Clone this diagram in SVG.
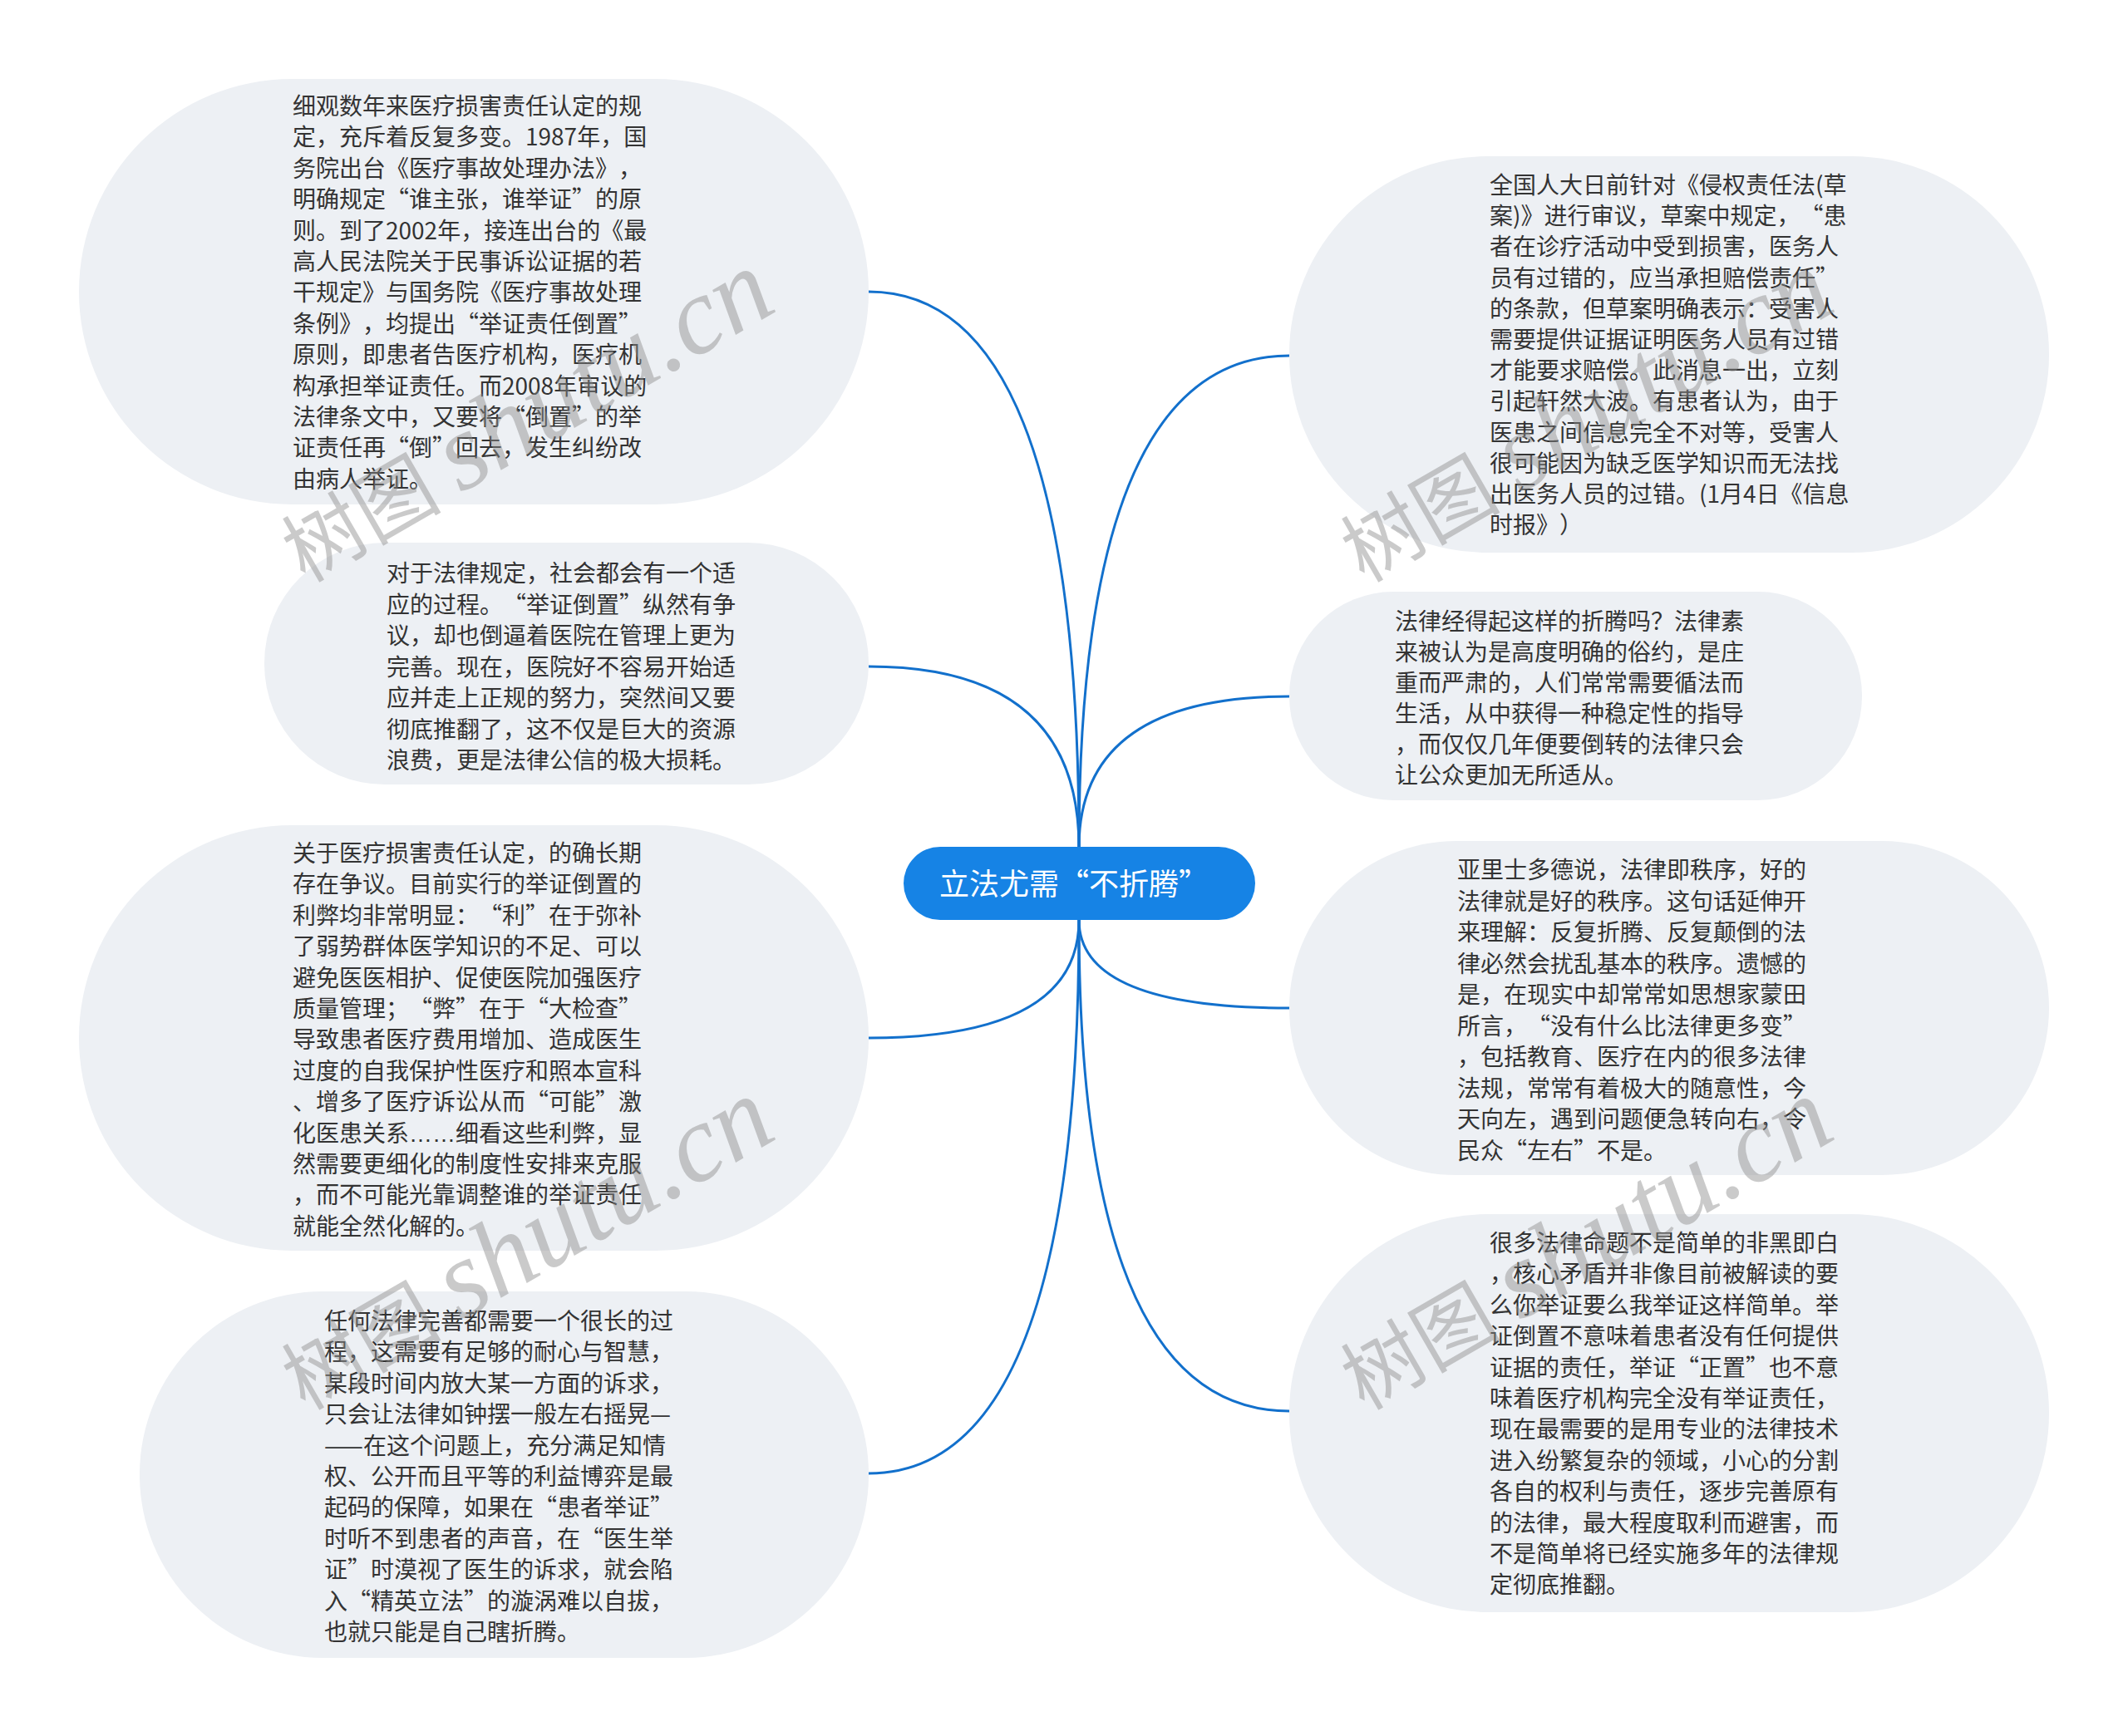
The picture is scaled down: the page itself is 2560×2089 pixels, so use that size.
<svg xmlns="http://www.w3.org/2000/svg" width="2560" height="2089" viewBox="0 0 2560 2089">
<style>
.node{fill:#EDF0F4;}
.t{font-family:"Noto Sans CJK SC","Noto Sans",sans-serif;font-size:28px;fill:#333333;text-spacing-trim:space-all;}
.el{font-family:"Liberation Sans",sans-serif;}
.c{fill:none;stroke:#1270CC;stroke-width:3;}
.center{fill:#1683E5;}
.ct{font-family:"Noto Sans CJK SC","Noto Sans",sans-serif;font-size:36px;fill:#FFFFFF;text-spacing-trim:space-all;}
.wm{fill:#8c8c8c;opacity:0.45;}
.wmc{font-family:"Noto Sans CJK SC",sans-serif;font-size:96px;}
.wml{font-family:"Liberation Serif",serif;font-style:italic;font-size:132px;}
</style>
<rect width="2560" height="2089" fill="#FFFFFF"/>
<g id="connectors">
<path class="c" d="M1298 1020 Q1298 351 1045 351"/>
<path class="c" d="M1298 1020 Q1298 802 1045 802"/>
<path class="c" d="M1298 1107 Q1298 1249 1045 1249"/>
<path class="c" d="M1298 1107 Q1298 1773 1045 1773"/>
<path class="c" d="M1298 1020 Q1298 428 1551 428"/>
<path class="c" d="M1298 1020 Q1298 838 1551 838"/>
<path class="c" d="M1298 1107 Q1298 1213 1551 1213"/>
<path class="c" d="M1298 1107 Q1298 1698 1551 1698"/>
</g>
<g id="center">
<rect class="center" x="1087" y="1019" width="423" height="88" rx="44" ry="44"/>
<text class="ct" x="1130" y="1077">立法尤需“不折腾”</text>
</g>
<g id="node-l1">
<rect class="node" x="95" y="95" width="950" height="512" rx="256" ry="256"/>
<text class="t" x="352" y="138">
<tspan x="352" dy="0">细观数年来医疗损害责任认定的规</tspan>
<tspan x="352" dy="37.4">定，充斥着反复多变。1987年，国</tspan>
<tspan x="352" dy="37.4">务院出台《医疗事故处理办法》，</tspan>
<tspan x="352" dy="37.4">明确规定“谁主张，谁举证”的原</tspan>
<tspan x="352" dy="37.4">则。到了2002年，接连出台的《最</tspan>
<tspan x="352" dy="37.4">高人民法院关于民事诉讼证据的若</tspan>
<tspan x="352" dy="37.4">干规定》与国务院《医疗事故处理</tspan>
<tspan x="352" dy="37.4">条例》，均提出“举证责任倒置”</tspan>
<tspan x="352" dy="37.4">原则，即患者告医疗机构，医疗机</tspan>
<tspan x="352" dy="37.4">构承担举证责任。而2008年审议的</tspan>
<tspan x="352" dy="37.4">法律条文中，又要将“倒置”的举</tspan>
<tspan x="352" dy="37.4">证责任再“倒”回去，发生纠纷改</tspan>
<tspan x="352" dy="37.4">由病人举证。</tspan>
</text>
</g>
<g id="node-l2">
<rect class="node" x="318" y="653" width="727" height="291" rx="145" ry="145"/>
<text class="t" x="465" y="700">
<tspan x="465" dy="0">对于法律规定，社会都会有一个适</tspan>
<tspan x="465" dy="37.5">应的过程。“举证倒置”纵然有争</tspan>
<tspan x="465" dy="37.5">议，却也倒逼着医院在管理上更为</tspan>
<tspan x="465" dy="37.5">完善。现在，医院好不容易开始适</tspan>
<tspan x="465" dy="37.5">应并走上正规的努力，突然间又要</tspan>
<tspan x="465" dy="37.5">彻底推翻了，这不仅是巨大的资源</tspan>
<tspan x="465" dy="37.5">浪费，更是法律公信的极大损耗。</tspan>
</text>
</g>
<g id="node-l3">
<rect class="node" x="95" y="993" width="950" height="512" rx="256" ry="256"/>
<text class="t" x="352" y="1037">
<tspan x="352" dy="0">关于医疗损害责任认定，的确长期</tspan>
<tspan x="352" dy="37.4">存在争议。目前实行的举证倒置的</tspan>
<tspan x="352" dy="37.4">利弊均非常明显：“利”在于弥补</tspan>
<tspan x="352" dy="37.4">了弱势群体医学知识的不足、可以</tspan>
<tspan x="352" dy="37.4">避免医医相护、促使医院加强医疗</tspan>
<tspan x="352" dy="37.4">质量管理；“弊”在于“大检查”</tspan>
<tspan x="352" dy="37.4">导致患者医疗费用增加、造成医生</tspan>
<tspan x="352" dy="37.4">过度的自我保护性医疗和照本宣科</tspan>
<tspan x="352" dy="37.4">、增多了医疗诉讼从而“可能”激</tspan>
<tspan x="352" dy="37.4">化医患关系<tspan class="el">……</tspan>细看这些利弊，显</tspan>
<tspan x="352" dy="37.4">然需要更细化的制度性安排来克服</tspan>
<tspan x="352" dy="37.4">，而不可能光靠调整谁的举证责任</tspan>
<tspan x="352" dy="37.4">就能全然化解的。</tspan>
</text>
</g>
<g id="node-l4">
<rect class="node" x="168" y="1554" width="877" height="441" rx="220" ry="220"/>
<text class="t" x="390" y="1600">
<tspan x="390" dy="0">任何法律完善都需要一个很长的过</tspan>
<tspan x="390" dy="37.4">程，这需要有足够的耐心与智慧，</tspan>
<tspan x="390" dy="37.4">某段时间内放大某一方面的诉求，</tspan>
<tspan x="390" dy="37.4">只会让法律如钟摆一般左右摇晃—</tspan>
<tspan x="390" dy="37.4">——在这个问题上，充分满足知情</tspan>
<tspan x="390" dy="37.4">权、公开而且平等的利益博弈是最</tspan>
<tspan x="390" dy="37.4">起码的保障，如果在“患者举证”</tspan>
<tspan x="390" dy="37.4">时听不到患者的声音，在“医生举</tspan>
<tspan x="390" dy="37.4">证”时漠视了医生的诉求，就会陷</tspan>
<tspan x="390" dy="37.4">入“精英立法”的漩涡难以自拔，</tspan>
<tspan x="390" dy="37.4">也就只能是自己瞎折腾。</tspan>
</text>
</g>
<g id="node-r1">
<rect class="node" x="1551" y="188" width="914" height="477" rx="238" ry="238"/>
<text class="t" x="1792" y="233">
<tspan x="1792" dy="0">全国人大日前针对《侵权责任法(草</tspan>
<tspan x="1792" dy="37.2">案)》进行审议，草案中规定，“患</tspan>
<tspan x="1792" dy="37.2">者在诊疗活动中受到损害，医务人</tspan>
<tspan x="1792" dy="37.2">员有过错的，应当承担赔偿责任”</tspan>
<tspan x="1792" dy="37.2">的条款，但草案明确表示：受害人</tspan>
<tspan x="1792" dy="37.2">需要提供证据证明医务人员有过错</tspan>
<tspan x="1792" dy="37.2">才能要求赔偿。此消息一出，立刻</tspan>
<tspan x="1792" dy="37.2">引起轩然大波。有患者认为，由于</tspan>
<tspan x="1792" dy="37.2">医患之间信息完全不对等，受害人</tspan>
<tspan x="1792" dy="37.2">很可能因为缺乏医学知识而无法找</tspan>
<tspan x="1792" dy="37.2">出医务人员的过错。(1月4日《信息</tspan>
<tspan x="1792" dy="37.2">时报》）</tspan>
</text>
</g>
<g id="node-r2">
<rect class="node" x="1551" y="712" width="689" height="251" rx="125" ry="125"/>
<text class="t" x="1678" y="758">
<tspan x="1678" dy="0">法律经得起这样的折腾吗？法律素</tspan>
<tspan x="1678" dy="37">来被认为是高度明确的俗约，是庄</tspan>
<tspan x="1678" dy="37">重而严肃的，人们常常需要循法而</tspan>
<tspan x="1678" dy="37">生活，从中获得一种稳定性的指导</tspan>
<tspan x="1678" dy="37">，而仅仅几年便要倒转的法律只会</tspan>
<tspan x="1678" dy="37">让公众更加无所适从。</tspan>
</text>
</g>
<g id="node-r3">
<rect class="node" x="1551" y="1012" width="914" height="402" rx="201" ry="201"/>
<text class="t" x="1753" y="1057">
<tspan x="1753" dy="0">亚里士多德说，法律即秩序，好的</tspan>
<tspan x="1753" dy="37.5">法律就是好的秩序。这句话延伸开</tspan>
<tspan x="1753" dy="37.5">来理解：反复折腾、反复颠倒的法</tspan>
<tspan x="1753" dy="37.5">律必然会扰乱基本的秩序。遗憾的</tspan>
<tspan x="1753" dy="37.5">是，在现实中却常常如思想家蒙田</tspan>
<tspan x="1753" dy="37.5">所言，“没有什么比法律更多变”</tspan>
<tspan x="1753" dy="37.5">，包括教育、医疗在内的很多法律</tspan>
<tspan x="1753" dy="37.5">法规，常常有着极大的随意性，今</tspan>
<tspan x="1753" dy="37.5">天向左，遇到问题便急转向右，令</tspan>
<tspan x="1753" dy="37.5">民众“左右”不是。</tspan>
</text>
</g>
<g id="node-r4">
<rect class="node" x="1551" y="1461" width="914" height="479" rx="239" ry="239"/>
<text class="t" x="1792" y="1506">
<tspan x="1792" dy="0">很多法律命题不是简单的非黑即白</tspan>
<tspan x="1792" dy="37.4">，核心矛盾并非像目前被解读的要</tspan>
<tspan x="1792" dy="37.4">么你举证要么我举证这样简单。举</tspan>
<tspan x="1792" dy="37.4">证倒置不意味着患者没有任何提供</tspan>
<tspan x="1792" dy="37.4">证据的责任，举证“正置”也不意</tspan>
<tspan x="1792" dy="37.4">味着医疗机构完全没有举证责任，</tspan>
<tspan x="1792" dy="37.4">现在最需要的是用专业的法律技术</tspan>
<tspan x="1792" dy="37.4">进入纷繁复杂的领域，小心的分割</tspan>
<tspan x="1792" dy="37.4">各自的权利与责任，逐步完善原有</tspan>
<tspan x="1792" dy="37.4">的法律，最大程度取利而避害，而</tspan>
<tspan x="1792" dy="37.4">不是简单将已经实施多年的法律规</tspan>
<tspan x="1792" dy="37.4">定彻底推翻。</tspan>
</text>
</g>
<g id="watermarks">
<text class="wm" transform="translate(367 702) rotate(-30)"><tspan class="wmc">树图</tspan><tspan class="wml" dx="24">shutu.cn</tspan></text>
<text class="wm" transform="translate(367 1698) rotate(-30)"><tspan class="wmc">树图</tspan><tspan class="wml" dx="24">shutu.cn</tspan></text>
<text class="wm" transform="translate(1641 702) rotate(-30)"><tspan class="wmc">树图</tspan><tspan class="wml" dx="24">shutu.cn</tspan></text>
<text class="wm" transform="translate(1641 1698) rotate(-30)"><tspan class="wmc">树图</tspan><tspan class="wml" dx="24">shutu.cn</tspan></text>
</g>
</svg>
